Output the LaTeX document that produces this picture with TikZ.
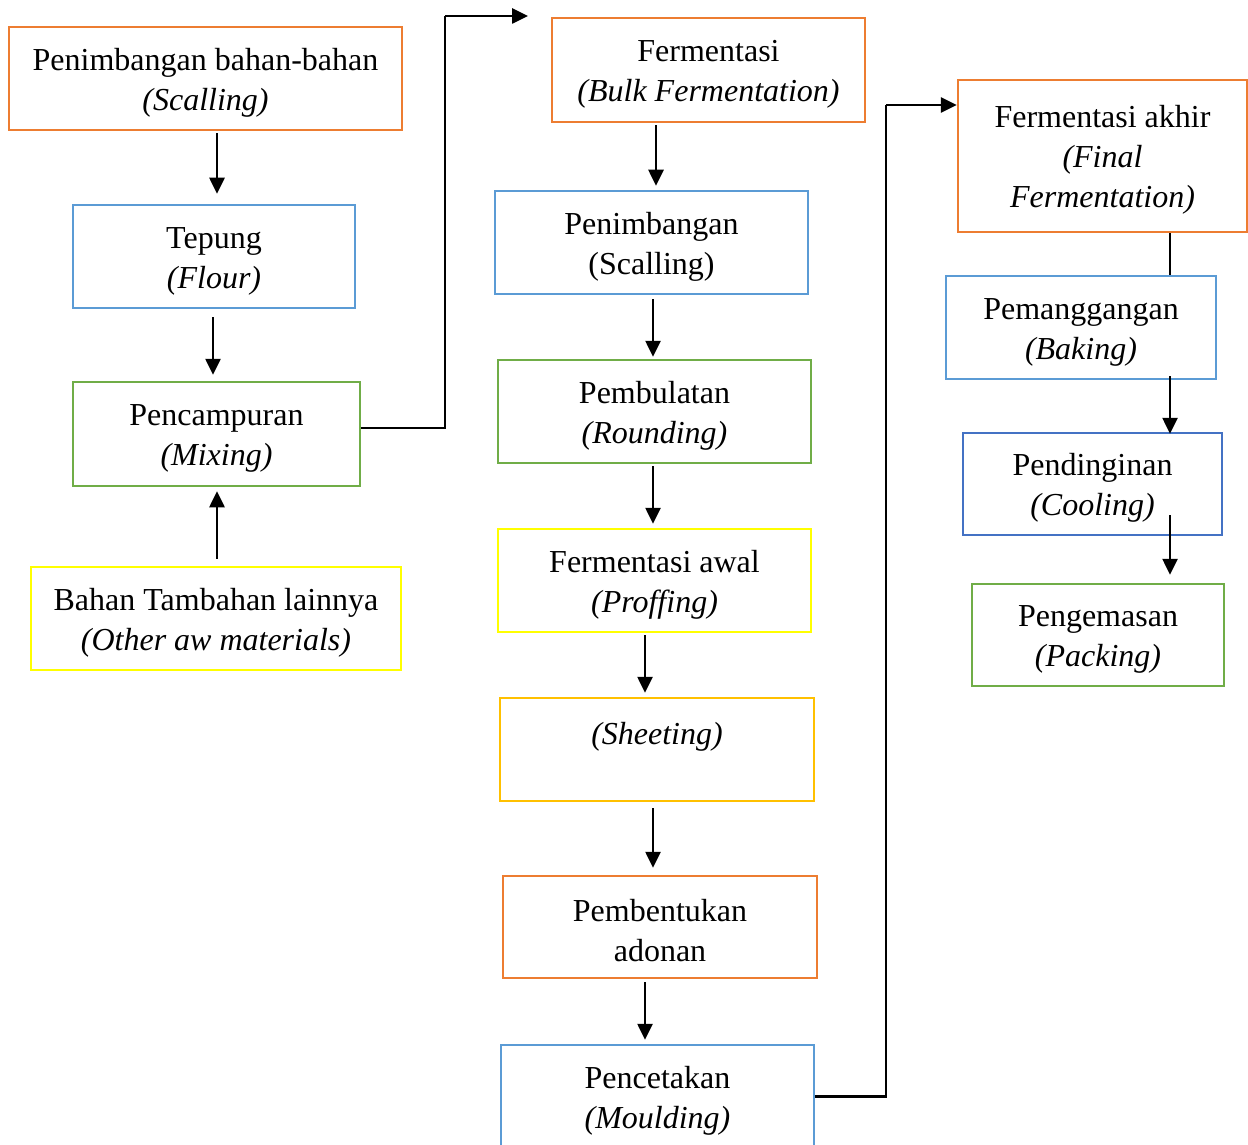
\documentclass[tikz,border=0pt]{standalone}
\usepackage{fontspec}
\setmainfont{Liberation Serif}
\usetikzlibrary{arrows.meta}
\definecolor{cOrange}{HTML}{ED7D31}
\definecolor{cBlue}{HTML}{5B9BD5}
\definecolor{cGreen}{HTML}{70AD47}
\definecolor{cYellow}{HTML}{FFFF00}
\definecolor{cGold}{HTML}{FFC000}
\definecolor{cDark}{HTML}{4472C4}
\tikzset{
  box/.style={draw, line width=2.5pt, rectangle, align=center, inner sep=0pt,
    font=\fontsize{32}{40}\selectfont},
  arr/.style={line width=2.6pt, -{Triangle[length=16pt,width=15pt]}},
  ln/.style={line width=2.6pt},
}
\begin{document}
\begin{tikzpicture}[x=1pt,y=-1pt]
\useasboundingbox (0,0) rectangle (1248,1145);
% left column
\node[box, draw=cOrange, minimum width=393pt, minimum height=103pt] (n1) at (205.5,78.5) {\rule{0pt}{30pt}Penimbangan bahan-bahan\\\textit{(Scalling)}};
\node[box, draw=cBlue, minimum width=282pt, minimum height=103pt] (n2) at (214,256.5) {\rule{0pt}{30pt}Tepung\\\textit{(Flour)}};
\node[box, draw=cGreen, minimum width=287pt, minimum height=104pt] (n3) at (216.5,434) {\rule{0pt}{30pt}Pencampuran\\\textit{(Mixing)}};
\node[box, draw=cYellow, minimum width=370pt, minimum height=103pt] (n4) at (216,618.5) {\rule{0pt}{30pt}Bahan Tambahan lainnya\\\textit{(Other aw materials)}};
% middle column
\node[box, draw=cOrange, minimum width=313pt, minimum height=104pt] (n5) at (708.5,70) {\rule{0pt}{30pt}Fermentasi\\\textit{(Bulk Fermentation)}};
\node[box, draw=cBlue, minimum width=313pt, minimum height=103pt] (n6) at (651.5,242.5) {\rule{0pt}{30pt}Penimbangan\\(Scalling)};
\node[box, draw=cGreen, minimum width=313pt, minimum height=103pt] (n7) at (654.5,411.5) {\rule{0pt}{30pt}Pembulatan\\\textit{(Rounding)}};
\node[box, draw=cYellow, minimum width=313pt, minimum height=103pt] (n8) at (654.5,580.5) {\rule{0pt}{30pt}Fermentasi awal\\\textit{(Proffing)}};
\node[box, draw=cGold, minimum width=314pt, minimum height=103pt] (n9) at (657,749.5) {\rule{0pt}{30pt}\textit{(Sheeting)}\\~};
\node[box, draw=cOrange, minimum width=314pt, minimum height=102pt] (n10) at (660,927) {\rule{0pt}{30pt}Pembentukan\\adonan};
\node[box, draw=cBlue, minimum width=313pt, minimum height=103pt] (n11) at (657.5,1096.5) {\rule{0pt}{30pt}Pencetakan\\\textit{(Moulding)}};
% right column
\node[box, draw=cOrange, minimum width=289pt, minimum height=152pt] (n12) at (1102.5,156) {\rule{0pt}{30pt}Fermentasi akhir\\\textit{(Final}\\\textit{Fermentation)}};
\node[box, draw=cBlue, minimum width=270pt, minimum height=103pt] (n13) at (1081,327.5) {\rule{0pt}{30pt}Pemanggangan\\\textit{(Baking)}};
\node[box, draw=cDark, minimum width=259pt, minimum height=102pt] (n14) at (1092.5,484) {\rule{0pt}{30pt}Pendinginan\\\textit{(Cooling)}};
\node[box, draw=cGreen, minimum width=252pt, minimum height=102pt] (n15) at (1098,635) {\rule{0pt}{30pt}Pengemasan\\\textit{(Packing)}};
% free end of the first long connector and bend points
\coordinate (t1) at (528,16);
\coordinate (t1a) at (445,16);
\coordinate (t2) at (886,105);
% connectors left column
\draw[arr] ([xshift=11.5pt,yshift=-2pt]n1.south) -- ([xshift=3pt,yshift=10pt]n2.north);
\draw[arr] ([xshift=-1pt,yshift=-8pt]n2.south) -- ([xshift=-3.5pt,yshift=6pt]n3.north);
\draw[arr] ([xshift=1pt,yshift=7pt]n4.north) -- ([xshift=0.5pt,yshift=-4pt]n3.south);
\draw[ln] ([yshift=6pt]n3.east) -| (t1a);
\draw[arr] (t1a) -- (t1);
% middle column
\draw[arr] ([xshift=-52.5pt,yshift=-2pt]n5.south) -- ([xshift=4.5pt,yshift=4pt]n6.north);
\draw[arr] ([xshift=1.5pt,yshift=-4pt]n6.south) -- ([xshift=-1.5pt,yshift=2pt]n7.north);
\draw[arr] ([xshift=-1.5pt,yshift=-2pt]n7.south) -- ([xshift=-1.5pt,yshift=4pt]n8.north);
\draw[arr] ([xshift=-9.5pt,yshift=-2pt]n8.south) -- ([xshift=-12pt,yshift=4pt]n9.north);
\draw[arr] ([xshift=-4pt,yshift=-6pt]n9.south) -- ([xshift=-7pt,yshift=7pt]n10.north);
\draw[arr] ([xshift=-15pt,yshift=-3pt]n10.south) -- ([xshift=-12.5pt,yshift=4pt]n11.north);
\draw[ln] (n11.east) -| (t2);
\draw[arr] (t2) -- ([yshift=51pt]n12.west);
% right column
\draw[ln] ([xshift=67.5pt]n12.south) -- ([xshift=89pt]n13.north);
\draw[arr] ([xshift=89pt,yshift=4pt]n13.south) -- ([xshift=77.5pt,yshift=-2pt]n14.north);
\draw[arr] ([xshift=77.5pt,yshift=21pt]n14.south) -- ([xshift=72pt,yshift=8pt]n15.north);
\end{tikzpicture}
\end{document}
